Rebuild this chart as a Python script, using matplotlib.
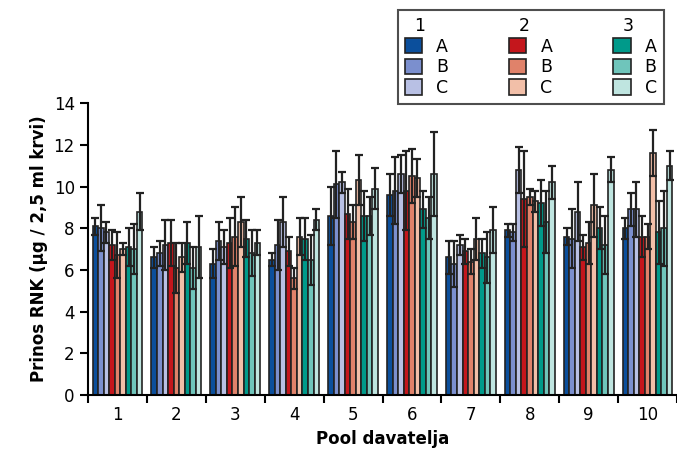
import matplotlib.pyplot as plt
import numpy as np
from matplotlib.patches import Patch

groups = ['1', '2', '3', '4', '5', '6', '7', '8', '9', '10']
series = ['1A', '1B', '1C', '2A', '2B', '2C', '3A', '3B', '3C']

# vrijednosti po poolu (redovi) i seriji (stupci)
values = np.array([
    [8.1, 8.0, 7.8, 7.2, 6.7, 7.0, 7.1, 7.0, 8.8],
    [6.6, 6.8, 7.2, 7.3, 6.1, 6.6, 7.3, 6.1, 7.1],
    [6.3, 7.4, 7.1, 7.3, 7.6, 8.3, 7.5, 6.8, 7.3],
    [6.5, 7.2, 8.3, 6.9, 5.6, 7.6, 7.5, 6.5, 8.4],
    [8.6, 10.1, 10.2, 8.7, 8.3, 10.3, 8.6, 8.6, 9.9],
    [9.6, 9.8, 10.6, 9.8, 10.5, 10.4, 8.9, 8.5, 10.6],
    [6.6, 6.3, 7.2, 6.9, 6.4, 7.5, 6.8, 6.6, 7.9],
    [7.9, 7.8, 10.8, 9.4, 9.5, 9.3, 9.2, 8.3, 10.2],
    [7.6, 7.5, 8.8, 7.1, 7.3, 9.1, 8.0, 7.2, 10.8],
    [8.0, 8.9, 8.9, 7.6, 7.6, 11.6, 7.8, 8.0, 11.0],
])
errors = np.array([
    [0.4, 1.1, 0.5, 0.7, 1.1, 0.3, 0.9, 1.2, 0.9],
    [0.5, 0.6, 1.2, 1.1, 1.2, 0.7, 1.0, 1.0, 1.5],
    [0.7, 0.9, 0.8, 1.2, 1.4, 1.2, 0.9, 1.1, 0.6],
    [0.3, 1.2, 1.2, 0.7, 0.5, 0.9, 1.0, 1.2, 0.5],
    [1.4, 1.6, 0.5, 1.2, 0.8, 1.2, 1.2, 0.9, 1.0],
    [1.0, 1.6, 0.9, 1.9, 1.3, 0.9, 0.9, 1.0, 2.0],
    [0.8, 1.1, 0.5, 0.6, 0.6, 1.0, 0.7, 1.2, 1.1],
    [0.3, 0.4, 1.1, 2.3, 0.4, 0.5, 1.1, 1.5, 0.8],
    [0.4, 1.4, 1.4, 0.6, 1.0, 1.5, 1.0, 1.4, 0.6],
    [0.5, 0.8, 1.3, 1.0, 0.6, 1.1, 1.5, 1.8, 0.7],
])

colors = ['#0b4f9c', '#7b8fce', '#b8c0e4', '#c4161c', '#e0826a', '#f2bfa8',
          '#009a8a', '#6fc5bb', '#bfe5e0']

fig = plt.figure(figsize=(6.77, 4.75), dpi=100)
ax = fig.add_axes([0.13, 0.168, 0.87, 0.615])

x = np.arange(len(groups))
width = 0.094
for i in range(len(series)):
    ax.bar(x + (i - 4) * width, values[:, i], width, color=colors[i],
           edgecolor='#222222', linewidth=1.2,
           yerr=errors[:, i], error_kw=dict(ecolor='#222222', elinewidth=1.6, capsize=3, capthick=1.6))

ax.set_xlim(-0.5, 9.32)
ax.set_ylim(0, 14)
ax.set_yticks(range(0, 15, 2))
ax.set_xticks(x)
ax.set_xticklabels(groups, fontsize=12)
ax.set_xticks(np.arange(-0.5, 10, 1), minor=True)
ax.tick_params(axis='x', which='major', length=0, pad=8)
ax.tick_params(axis='x', which='minor', length=6, width=1.5)
ax.tick_params(axis='y', labelsize=12, length=6, width=1.5)
for s in ['top', 'right']:
    ax.spines[s].set_visible(False)
for s in ['left', 'bottom']:
    ax.spines[s].set_linewidth(1.5)
ax.set_ylabel('Prinos RNK (µg / 2,5 ml krvi)', fontsize=12, fontweight='bold')
ax.set_xlabel('Pool davatelja', fontsize=12, fontweight='bold')

handles, labels = [], []
for g in range(3):
    handles.append(Patch(visible=False))
    labels.append(str(g + 1))
    for k, letter in enumerate('ABC'):
        handles.append(Patch(facecolor=colors[g * 3 + k], edgecolor='#222222', linewidth=1.2))
        labels.append(letter)
leg = fig.legend(handles, labels, ncol=3, loc='upper right', bbox_to_anchor=(0.993, 0.997),
                 fontsize=12.5, frameon=True, fancybox=False, edgecolor='#222222',
                 handlelength=1.0, handleheight=1.0, handletextpad=0.8, columnspacing=3.5,
                 labelspacing=0.15, borderpad=0.4)
leg.get_frame().set_linewidth(1.5)
# naslovi stupaca legende poravnati lijevo
for t in [leg.get_texts()[i] for i in (0, 4, 8)]:
    t.set_position((-22, 0))

plt.savefig('out.png')
